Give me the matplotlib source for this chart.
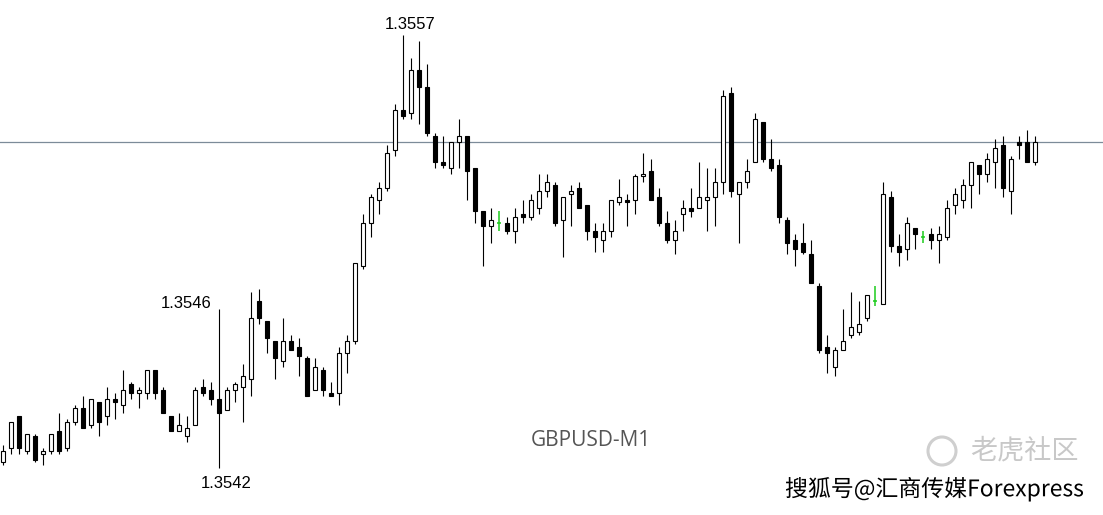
"""GBPUSD M1 candlestick snapshot, MT4 style (white/black bodies, green dojis)."""

import matplotlib
matplotlib.use("Agg")
import matplotlib.pyplot as plt
import matplotlib.patheffects as pe
from matplotlib.patches import Ellipse
import numpy as np

# ── Data (one value per candle) ─────────────────────────────────────────────
opens = [
    1.35422, 1.35427, 1.35438, 1.35426, 1.35431, 1.35425, 1.35426, 1.35433, 1.35427, 1.35436,
    1.35441, 1.35435, 1.35443, 1.35438, 1.35444, 1.35442, 1.35449, 1.35446, 1.35446, 1.35454,
    1.35447, 1.35438, 1.35433, 1.35431, 1.35435, 1.35448, 1.35447, 1.35444, 1.35440, 1.35447,
    1.35448, 1.35451, 1.35478, 1.35471, 1.35464, 1.35457, 1.35464, 1.35462, 1.35458, 1.35447,
    1.35454, 1.35446, 1.35446, 1.35460, 1.35464, 1.35490, 1.35505, 1.35513, 1.35517, 1.35530,
    1.35544, 1.35543, 1.35558, 1.35552, 1.35535, 1.35526, 1.35524, 1.35533, 1.35535, 1.35524,
    1.35509, 1.35504, 1.35505, 1.35505, 1.35502, 1.35508, 1.35507, 1.35510, 1.35516, 1.35518,
    1.35506, 1.35515, 1.35517, 1.35511, 1.35502, 1.35499, 1.35502, 1.35512, 1.35513, 1.35513,
    1.35521, 1.35523, 1.35514, 1.35505, 1.35499, 1.35508, 1.35510, 1.35510, 1.35513, 1.35514,
    1.35519, 1.35550, 1.35515, 1.35519, 1.35526, 1.35540, 1.35527, 1.35525, 1.35506, 1.35499,
    1.35498, 1.35494, 1.35483, 1.35462, 1.35455, 1.35461, 1.35466, 1.35467, 1.35472, 1.35478,
    1.35477, 1.35514, 1.35497, 1.35496, 1.35503, 1.35500, 1.35501, 1.35499, 1.35500, 1.35511,
    1.35513, 1.35518, 1.35525, 1.35522, 1.35526, 1.35532, 1.35516, 1.35533, 1.35533, 1.35526,
]
highs = [
    1.35428, 1.35436, 1.35438, 1.35432, 1.35432, 1.35427, 1.35432, 1.35439, 1.35437, 1.35442,
    1.35445, 1.35444, 1.35443, 1.35448, 1.35446, 1.35454, 1.35450, 1.35448, 1.35454, 1.35454,
    1.35448, 1.35438, 1.35439, 1.35438, 1.35448, 1.35451, 1.35450, 1.35475, 1.35448, 1.35450,
    1.35456, 1.35481, 1.35482, 1.35471, 1.35464, 1.35472, 1.35466, 1.35465, 1.35459, 1.35458,
    1.35455, 1.35450, 1.35462, 1.35466, 1.35491, 1.35508, 1.35515, 1.35519, 1.35532, 1.35546,
    1.35570, 1.35562, 1.35568, 1.35560, 1.35536, 1.35535, 1.35533, 1.35541, 1.35535, 1.35524,
    1.35509, 1.35510, 1.35509, 1.35507, 1.35510, 1.35513, 1.35515, 1.35522, 1.35522, 1.35519,
    1.35514, 1.35518, 1.35519, 1.35511, 1.35505, 1.35505, 1.35513, 1.35520, 1.35515, 1.35522,
    1.35529, 1.35527, 1.35517, 1.35509, 1.35506, 1.35513, 1.35517, 1.35526, 1.35524, 1.35524,
    1.35551, 1.35552, 1.35519, 1.35527, 1.35543, 1.35540, 1.35534, 1.35527, 1.35507, 1.35501,
    1.35505, 1.35499, 1.35484, 1.35466, 1.35462, 1.35475, 1.35481, 1.35478, 1.35480, 1.35483,
    1.35519, 1.35516, 1.35501, 1.35507, 1.35503, 1.35502, 1.35503, 1.35504, 1.35513, 1.35517,
    1.35520, 1.35526, 1.35525, 1.35529, 1.35534, 1.35535, 1.35528, 1.35535, 1.35537, 1.35535,
]
lows = [
    1.35421, 1.35425, 1.35425, 1.35425, 1.35422, 1.35421, 1.35425, 1.35425, 1.35426, 1.35435,
    1.35434, 1.35434, 1.35431, 1.35435, 1.35437, 1.35439, 1.35444, 1.35441, 1.35444, 1.35444,
    1.35439, 1.35433, 1.35433, 1.35429, 1.35435, 1.35445, 1.35442, 1.35420, 1.35440, 1.35443,
    1.35436, 1.35445, 1.35470, 1.35460, 1.35451, 1.35455, 1.35461, 1.35452, 1.35445, 1.35447,
    1.35445, 1.35445, 1.35442, 1.35453, 1.35463, 1.35489, 1.35500, 1.35508, 1.35516, 1.35528,
    1.35541, 1.35541, 1.35539, 1.35535, 1.35524, 1.35524, 1.35522, 1.35524, 1.35513, 1.35505,
    1.35490, 1.35498, 1.35502, 1.35501, 1.35498, 1.35505, 1.35506, 1.35508, 1.35514, 1.35504,
    1.35493, 1.35504, 1.35510, 1.35499, 1.35495, 1.35495, 1.35500, 1.35511, 1.35504, 1.35508,
    1.35519, 1.35513, 1.35504, 1.35498, 1.35494, 1.35502, 1.35507, 1.35510, 1.35502, 1.35504,
    1.35515, 1.35514, 1.35498, 1.35517, 1.35526, 1.35526, 1.35523, 1.35505, 1.35494, 1.35490,
    1.35494, 1.35484, 1.35460, 1.35453, 1.35452, 1.35461, 1.35465, 1.35466, 1.35471, 1.35476,
    1.35477, 1.35495, 1.35490, 1.35492, 1.35496, 1.35498, 1.35496, 1.35491, 1.35499, 1.35508,
    1.35510, 1.35510, 1.35515, 1.35519, 1.35517, 1.35514, 1.35508, 1.35527, 1.35526, 1.35525,
]
closes = [
    1.35426, 1.35436, 1.35427, 1.35432, 1.35423, 1.35426, 1.35432, 1.35426, 1.35436, 1.35441,
    1.35434, 1.35444, 1.35436, 1.35444, 1.35443, 1.35447, 1.35446, 1.35447, 1.35454, 1.35446,
    1.35439, 1.35433, 1.35435, 1.35434, 1.35447, 1.35446, 1.35444, 1.35439, 1.35447, 1.35449,
    1.35452, 1.35472, 1.35472, 1.35465, 1.35458, 1.35464, 1.35461, 1.35459, 1.35445, 1.35455,
    1.35447, 1.35445, 1.35460, 1.35464, 1.35491, 1.35505, 1.35514, 1.35517, 1.35529, 1.35544,
    1.35542, 1.35558, 1.35552, 1.35536, 1.35526, 1.35525, 1.35533, 1.35535, 1.35523, 1.35509,
    1.35504, 1.35506, 1.35505, 1.35502, 1.35507, 1.35507, 1.35513, 1.35516, 1.35519, 1.35505,
    1.35514, 1.35516, 1.35510, 1.35502, 1.35500, 1.35502, 1.35513, 1.35514, 1.35512, 1.35521,
    1.35522, 1.35513, 1.35505, 1.35499, 1.35502, 1.35510, 1.35509, 1.35514, 1.35514, 1.35519,
    1.35549, 1.35516, 1.35519, 1.35523, 1.35541, 1.35527, 1.35524, 1.35507, 1.35498, 1.35496,
    1.35495, 1.35484, 1.35461, 1.35460, 1.35461, 1.35464, 1.35469, 1.35470, 1.35480, 1.35478,
    1.35515, 1.35497, 1.35495, 1.35505, 1.35501, 1.35500, 1.35499, 1.35501, 1.35510, 1.35515,
    1.35518, 1.35526, 1.35522, 1.35527, 1.35531, 1.35517, 1.35527, 1.35532, 1.35526, 1.35533,
]

SYMBOL = "GBPUSD-M1"
HIGH_LABEL = "1.3557"     # session high marker
SPIKE_HIGH_LABEL = "1.3546"
LOW_LABEL = "1.3542"

# ── Style ───────────────────────────────────────────────────────────────────
W, H = 1103, 515
BODY_W = 0.5
DOJI_GREEN = "#1ccc1c"
BID_COLOR = "#7c8b99"
CJK = ["Noto Sans CJK SC", "DejaVu Sans"]


def main():
    o = np.array(opens)
    h = np.array(highs)
    l = np.array(lows)
    c = np.array(closes)
    x = np.arange(len(o))

    doji = np.round(o, 5) == np.round(c, 5)
    up = (c > o) & ~doji
    dn = (c < o) & ~doji

    fig = plt.figure(figsize=(W / 100, H / 100), dpi=100, facecolor="white")
    ax = fig.add_axes([0, 0, 1, 1])
    ax.set_axis_off()

    # bid line at last close
    ax.axhline(c[-1], color=BID_COLOR, lw=0.9, zorder=0)

    # wicks
    ax.vlines(x[~doji], l[~doji], h[~doji], color="black", lw=0.8, zorder=1)
    ax.vlines(x[doji], l[doji], h[doji], color=DOJI_GREEN, lw=1.1, zorder=1)
    ax.hlines(c[doji], x[doji] - BODY_W / 2, x[doji] + BODY_W / 2,
              color=DOJI_GREEN, lw=1.1, zorder=1)

    # bodies
    ax.bar(x[up], (c - o)[up], bottom=o[up], width=BODY_W,
           facecolor="white", edgecolor="black", lw=0.8, zorder=2)
    ax.bar(x[dn], (o - c)[dn], bottom=c[dn], width=BODY_W,
           facecolor="black", edgecolor="black", lw=0.8, zorder=2)

    # candle i sits at pixel 2.5 + 8*i
    x0 = -2.5 / 8
    ax.set_xlim(x0, x0 + W / 8)
    ax.set_ylim(1.354038, 1.355821)

    # high / low markers
    lab = dict(fontsize=12, family="Liberation Sans", color="black",
               textcoords="offset pixels")
    i_hi = int(np.argmax(h))
    i_lo = int(np.argmin(l))
    ax.annotate(HIGH_LABEL, (i_hi, h[i_hi]), xytext=(8, 6), ha="center", va="baseline", **lab)
    ax.annotate(SPIKE_HIGH_LABEL, (i_lo, h[i_lo]), xytext=(-7, 1), ha="right", va="baseline", **lab)
    ax.annotate(LOW_LABEL, (i_lo, l[i_lo]), xytext=(8, -8), ha="center", va="top", **lab)

    # symbol caption
    fig.text(591 / W, 1 - 441 / H, SYMBOL, ha="center", va="center",
             fontsize=15, family="Open Sans", color="#555555")

    # watermarks
    fig.patches.append(Ellipse((942 / W, 1 - 451 / H), 28 / W, 28 / H,
                               transform=fig.transFigure, fill=False,
                               ec="#cfcfcf", lw=2.2))
    fig.text(970 / W, 1 - 451 / H, "老虎社区", ha="left", va="center", fontsize=19.5,
             family=CJK, color="#c8c8c8")
    fig.text(785 / W, 1 - 489 / H, "搜狐号@汇商传媒Forexpress", ha="left", va="center",
             fontsize=16.5, family=CJK, color="black",
             path_effects=[pe.withStroke(linewidth=3.5, foreground="white")])

    fig.savefig("out.png", dpi=100, facecolor="white")


if __name__ == "__main__":
    main()
